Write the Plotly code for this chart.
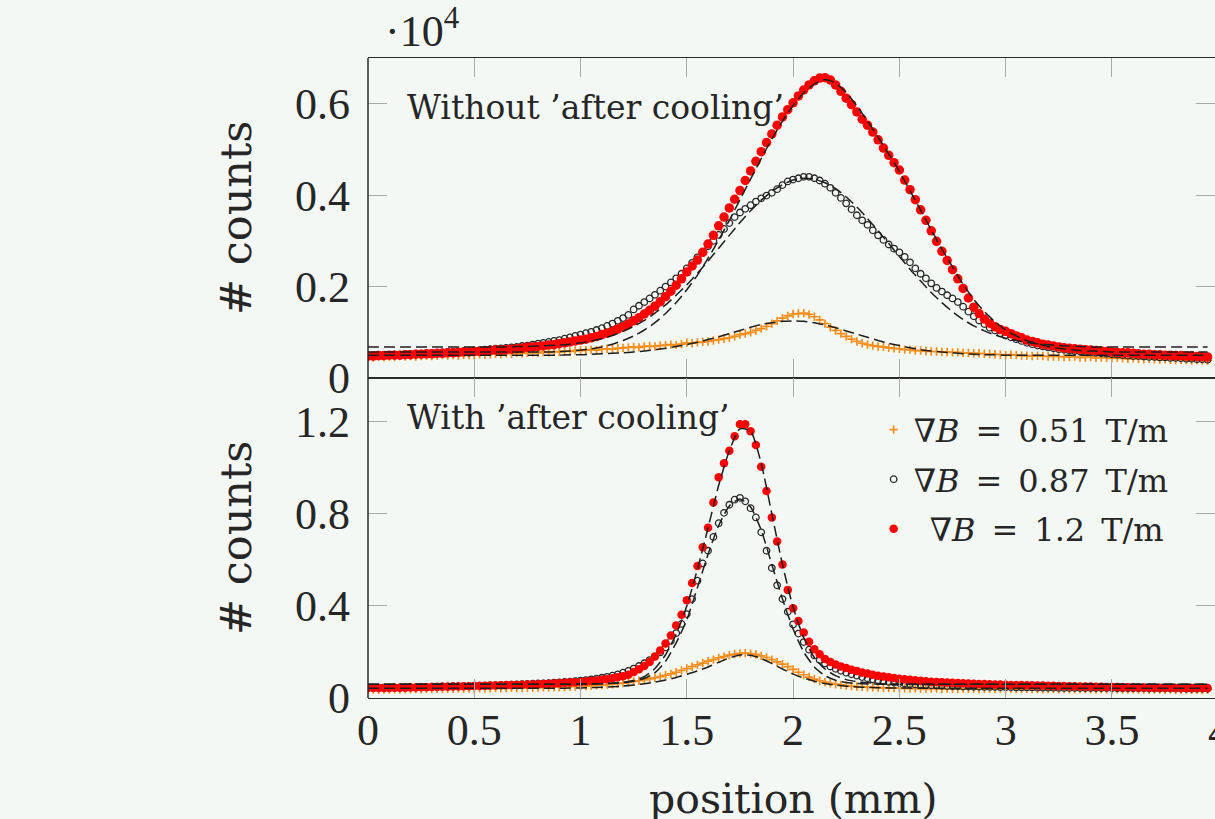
import plotly.graph_objects as go
from plotly.subplots import make_subplots

# ---------------- data (counts in units of 10^4) ----------------
x_data = [round(0.025 * i, 3) for i in range(159)]   # position (mm)
x_fit = [round(0.05 * i, 2) for i in range(80)]      # position (mm) for fit curves

# Top panel: without 'after cooling'
top_orange = [
    0.046,0.045,0.047,0.046,0.047,0.046,0.048,0.047,0.048,0.047,
    0.048,0.049,0.048,0.049,0.050,0.049,0.050,0.049,0.051,0.050,
    0.050,0.052,0.051,0.052,0.053,0.052,0.054,0.053,0.055,0.054,
    0.055,0.056,0.055,0.057,0.056,0.058,0.057,0.059,0.058,0.060,
    0.060,0.061,0.062,0.061,0.063,0.064,0.063,0.065,0.066,0.067,
    0.068,0.067,0.069,0.070,0.069,0.071,0.072,0.073,0.072,0.074,
    0.077,0.076,0.078,0.079,0.080,0.082,0.084,0.086,0.088,0.091,
    0.095,0.097,0.100,0.104,0.108,0.113,0.119,0.125,0.131,0.136,
    0.140,0.141,0.142,0.139,0.134,0.127,0.119,0.111,0.104,0.097,
    0.091,0.085,0.080,0.076,0.073,0.071,0.069,0.068,0.066,0.065,
    0.064,0.062,0.062,0.060,0.060,0.059,0.058,0.058,0.057,0.057,
    0.056,0.056,0.055,0.055,0.054,0.054,0.053,0.053,0.052,0.051,
    0.050,0.051,0.050,0.049,0.049,0.048,0.049,0.048,0.047,0.047,
    0.047,0.046,0.046,0.047,0.045,0.045,0.046,0.044,0.045,0.044,
    0.043,0.044,0.043,0.042,0.043,0.042,0.041,0.042,0.041,0.040,
    0.041,0.040,0.039,0.040,0.039,0.038,0.039,0.038,0.038]
top_black = [
    0.048,0.049,0.049,0.050,0.050,0.051,0.051,0.052,0.052,0.053,
    0.053,0.054,0.055,0.055,0.056,0.057,0.057,0.058,0.059,0.059,
    0.060,0.061,0.062,0.063,0.064,0.065,0.066,0.067,0.068,0.070,
    0.071,0.073,0.075,0.077,0.079,0.081,0.083,0.086,0.089,0.092,
    0.095,0.098,0.101,0.105,0.109,0.114,0.119,0.125,0.131,0.138,
    0.150,0.158,0.166,0.174,0.182,0.191,0.200,0.209,0.218,0.228,
    0.240,0.252,0.264,0.276,0.288,0.300,0.313,0.326,0.339,0.352,
    0.362,0.370,0.378,0.386,0.393,0.399,0.405,0.413,0.422,0.430,
    0.434,0.437,0.440,0.440,0.437,0.432,0.425,0.416,0.405,0.394,
    0.382,0.369,0.356,0.345,0.335,0.323,0.312,0.302,0.292,0.283,
    0.275,0.265,0.253,0.240,0.228,0.218,0.207,0.197,0.189,0.181,
    0.174,0.166,0.156,0.145,0.135,0.126,0.118,0.110,0.104,0.098,
    0.093,0.089,0.085,0.081,0.077,0.074,0.071,0.069,0.067,0.065,
    0.063,0.062,0.060,0.059,0.058,0.057,0.056,0.055,0.054,0.053,
    0.052,0.051,0.050,0.049,0.048,0.048,0.047,0.046,0.046,0.045,
    0.045,0.044,0.044,0.043,0.042,0.042,0.041,0.041,0.040]
top_red = [
    0.048,0.048,0.049,0.049,0.050,0.050,0.050,0.051,0.051,0.052,
    0.052,0.053,0.053,0.054,0.054,0.055,0.055,0.056,0.057,0.057,
    0.058,0.058,0.059,0.060,0.061,0.061,0.062,0.063,0.064,0.065,
    0.067,0.068,0.069,0.070,0.072,0.073,0.075,0.077,0.079,0.081,
    0.083,0.085,0.088,0.091,0.095,0.098,0.102,0.107,0.112,0.118,
    0.125,0.132,0.140,0.148,0.157,0.167,0.178,0.190,0.203,0.217,
    0.232,0.245,0.258,0.275,0.293,0.312,0.333,0.352,0.372,0.391,
    0.410,0.432,0.453,0.474,0.495,0.515,0.534,0.553,0.571,0.587,
    0.602,0.617,0.630,0.641,0.650,0.656,0.657,0.652,0.641,0.627,
    0.612,0.598,0.582,0.566,0.553,0.538,0.521,0.503,0.487,0.471,
    0.455,0.433,0.412,0.390,0.368,0.345,0.322,0.299,0.277,0.257,
    0.237,0.217,0.196,0.175,0.155,0.141,0.129,0.120,0.112,0.106,
    0.102,0.097,0.092,0.088,0.083,0.080,0.077,0.074,0.072,0.070,
    0.068,0.066,0.065,0.064,0.063,0.062,0.061,0.060,0.059,0.058,
    0.057,0.056,0.055,0.055,0.054,0.053,0.052,0.052,0.051,0.051,
    0.050,0.050,0.049,0.049,0.048,0.048,0.047,0.047,0.046]

top_orange_fit = [
    0.050,0.050,0.050,0.050,0.050,0.050,0.050,0.050,0.050,0.050,
    0.050,0.050,0.050,0.050,0.050,0.050,0.050,0.050,0.050,0.051,
    0.051,0.052,0.053,0.054,0.055,0.057,0.059,0.062,0.065,0.069,
    0.073,0.078,0.084,0.090,0.097,0.104,0.111,0.117,0.121,0.124,
    0.125,0.124,0.121,0.116,0.110,0.103,0.096,0.089,0.082,0.076,
    0.071,0.066,0.062,0.059,0.057,0.055,0.053,0.052,0.051,0.051,
    0.050,0.050,0.050,0.050,0.050,0.050,0.050,0.050,0.050,0.050,
    0.050,0.050,0.050,0.050,0.050,0.050,0.050,0.050,0.050,0.050]
top_black_fit = [
    0.068,0.068,0.068,0.068,0.068,0.068,0.068,0.068,0.068,0.068,
    0.068,0.068,0.068,0.068,0.069,0.069,0.070,0.071,0.072,0.074,
    0.077,0.081,0.086,0.093,0.102,0.113,0.126,0.142,0.160,0.181,
    0.204,0.229,0.256,0.284,0.312,0.340,0.366,0.389,0.408,0.423,
    0.433,0.437,0.435,0.427,0.414,0.396,0.374,0.349,0.322,0.294,
    0.266,0.238,0.212,0.187,0.165,0.145,0.128,0.114,0.103,0.094,
    0.087,0.082,0.078,0.075,0.073,0.071,0.070,0.069,0.068,0.068,
    0.068,0.068,0.068,0.068,0.068,0.068,0.068,0.068,0.068,0.068]
top_red_fit = [
    0.057,0.057,0.057,0.057,0.057,0.057,0.057,0.057,0.057,0.057,
    0.057,0.057,0.057,0.057,0.057,0.057,0.057,0.057,0.058,0.059,
    0.061,0.064,0.068,0.074,0.082,0.092,0.105,0.121,0.141,0.165,
    0.193,0.225,0.262,0.302,0.345,0.390,0.435,0.480,0.523,0.562,
    0.596,0.624,0.643,0.653,0.645,0.625,0.595,0.562,0.527,0.490,
    0.452,0.410,0.367,0.324,0.282,0.243,0.205,0.172,0.145,0.123,
    0.105,0.092,0.082,0.075,0.069,0.065,0.062,0.060,0.059,0.058,
    0.057,0.057,0.057,0.057,0.057,0.057,0.057,0.057,0.057,0.057]

# Bottom panel: with 'after cooling'
bot_orange = [
    0.036,0.037,0.036,0.037,0.037,0.038,0.037,0.038,0.038,0.039,
    0.038,0.039,0.039,0.040,0.039,0.040,0.040,0.041,0.040,0.041,
    0.041,0.042,0.041,0.042,0.043,0.042,0.043,0.044,0.043,0.044,
    0.045,0.044,0.045,0.046,0.046,0.047,0.047,0.048,0.049,0.050,
    0.051,0.052,0.053,0.055,0.056,0.058,0.060,0.062,0.065,0.068,
    0.072,0.075,0.079,0.083,0.088,0.093,0.099,0.105,0.112,0.120,
    0.128,0.136,0.144,0.152,0.160,0.167,0.174,0.180,0.186,0.191,
    0.194,0.195,0.193,0.189,0.183,0.176,0.167,0.157,0.147,0.136,
    0.124,0.112,0.101,0.091,0.082,0.075,0.069,0.064,0.060,0.057,
    0.054,0.052,0.050,0.049,0.047,0.046,0.045,0.044,0.044,0.043,
    0.043,0.042,0.042,0.042,0.041,0.041,0.041,0.041,0.040,0.041,
    0.040,0.040,0.041,0.040,0.040,0.039,0.040,0.040,0.039,0.040,
    0.039,0.040,0.039,0.039,0.040,0.039,0.039,0.038,0.039,0.039,
    0.038,0.039,0.038,0.038,0.039,0.038,0.038,0.037,0.038,0.038,
    0.037,0.038,0.037,0.037,0.038,0.037,0.037,0.036,0.037,0.037,
    0.036,0.037,0.036,0.036,0.037,0.036,0.036,0.035,0.036]
bot_black = [
    0.044,0.044,0.045,0.045,0.045,0.046,0.046,0.046,0.047,0.047,
    0.048,0.048,0.049,0.049,0.050,0.050,0.051,0.051,0.052,0.052,
    0.053,0.054,0.054,0.055,0.056,0.057,0.057,0.058,0.059,0.060,
    0.061,0.062,0.063,0.064,0.065,0.067,0.068,0.070,0.071,0.073,
    0.075,0.078,0.081,0.084,0.088,0.092,0.097,0.103,0.110,0.118,
    0.128,0.139,0.151,0.165,0.180,0.198,0.220,0.248,0.282,0.322,
    0.365,0.430,0.510,0.585,0.640,0.700,0.760,0.805,0.840,0.862,
    0.870,0.855,0.825,0.785,0.720,0.640,0.565,0.490,0.430,0.375,
    0.320,0.280,0.243,0.210,0.185,0.165,0.150,0.137,0.127,0.118,
    0.110,0.103,0.097,0.091,0.086,0.081,0.077,0.073,0.070,0.067,
    0.065,0.063,0.061,0.059,0.058,0.056,0.055,0.054,0.053,0.052,
    0.051,0.051,0.050,0.050,0.049,0.049,0.048,0.048,0.048,0.047,
    0.047,0.047,0.046,0.046,0.046,0.046,0.045,0.045,0.045,0.045,
    0.044,0.044,0.044,0.044,0.044,0.043,0.043,0.043,0.043,0.043,
    0.043,0.042,0.042,0.042,0.042,0.042,0.042,0.041,0.041,0.041,
    0.041,0.041,0.041,0.041,0.040,0.040,0.040,0.040,0.040]
bot_red = [
    0.043,0.043,0.044,0.044,0.044,0.045,0.045,0.045,0.046,0.046,
    0.047,0.047,0.048,0.048,0.049,0.049,0.050,0.050,0.051,0.051,
    0.052,0.052,0.053,0.054,0.054,0.055,0.056,0.056,0.057,0.058,
    0.059,0.059,0.060,0.061,0.062,0.063,0.064,0.066,0.067,0.068,
    0.070,0.072,0.074,0.076,0.079,0.082,0.086,0.090,0.095,0.101,
    0.113,0.125,0.139,0.157,0.180,0.207,0.237,0.272,0.315,0.362,
    0.425,0.500,0.574,0.655,0.740,0.850,0.960,1.020,1.075,1.138,
    1.190,1.190,1.160,1.100,1.005,0.900,0.785,0.680,0.580,0.470,
    0.390,0.335,0.285,0.245,0.212,0.190,0.170,0.157,0.146,0.137,
    0.130,0.123,0.117,0.111,0.106,0.101,0.097,0.093,0.090,0.087,
    0.084,0.081,0.079,0.077,0.075,0.073,0.071,0.070,0.068,0.067,
    0.066,0.065,0.064,0.063,0.062,0.061,0.061,0.060,0.059,0.059,
    0.058,0.057,0.057,0.056,0.055,0.055,0.054,0.054,0.053,0.053,
    0.052,0.052,0.051,0.051,0.050,0.050,0.050,0.049,0.049,0.048,
    0.048,0.048,0.047,0.047,0.047,0.046,0.046,0.046,0.045,0.045,
    0.045,0.045,0.044,0.044,0.044,0.044,0.043,0.043,0.043]

bot_orange_fit = [
    0.042,0.042,0.042,0.042,0.042,0.042,0.042,0.042,0.042,0.042,
    0.042,0.042,0.042,0.042,0.042,0.042,0.042,0.042,0.042,0.043,
    0.044,0.045,0.047,0.049,0.052,0.056,0.062,0.069,0.078,0.089,
    0.103,0.118,0.135,0.155,0.174,0.187,0.186,0.172,0.150,0.126,
    0.104,0.087,0.073,0.063,0.056,0.051,0.048,0.046,0.045,0.044,
    0.043,0.043,0.042,0.042,0.042,0.042,0.042,0.042,0.042,0.042,
    0.042,0.042,0.042,0.042,0.042,0.042,0.042,0.042,0.042,0.042,
    0.042,0.042,0.042,0.042,0.042,0.042,0.042,0.042,0.042,0.042]
bot_black_fit = [
    0.060,0.060,0.060,0.060,0.060,0.060,0.060,0.060,0.060,0.060,
    0.060,0.060,0.060,0.060,0.060,0.060,0.060,0.060,0.060,0.060,
    0.061,0.061,0.062,0.064,0.067,0.073,0.085,0.110,0.160,0.240,
    0.340,0.480,0.625,0.750,0.835,0.865,0.830,0.730,0.580,0.430,
    0.300,0.200,0.135,0.097,0.077,0.067,0.063,0.061,0.060,0.060,
    0.060,0.060,0.060,0.060,0.060,0.060,0.060,0.060,0.060,0.060,
    0.060,0.060,0.060,0.060,0.060,0.060,0.060,0.060,0.060,0.060,
    0.060,0.060,0.060,0.060,0.060,0.060,0.060,0.060,0.060,0.060]
bot_red_fit = [
    0.060,0.060,0.060,0.060,0.060,0.060,0.060,0.060,0.060,0.060,
    0.060,0.060,0.060,0.060,0.060,0.060,0.060,0.060,0.060,0.060,
    0.061,0.061,0.062,0.064,0.068,0.076,0.093,0.128,0.188,0.278,
    0.400,0.560,0.740,0.925,1.075,1.170,1.160,1.020,0.800,0.580,
    0.395,0.262,0.176,0.126,0.097,0.080,0.071,0.066,0.063,0.061,
    0.060,0.060,0.060,0.060,0.060,0.060,0.060,0.060,0.060,0.060,
    0.060,0.060,0.060,0.060,0.060,0.060,0.060,0.060,0.060,0.060,
    0.060,0.060,0.060,0.060,0.060,0.060,0.060,0.060,0.060,0.060]

for name, arr in [("top_orange", top_orange), ("top_black", top_black), ("top_red", top_red),
                  ("bot_orange", bot_orange), ("bot_black", bot_black), ("bot_red", bot_red)]:
    assert len(arr) == len(x_data), (name, len(arr))
for name, arr in [("top_orange_fit", top_orange_fit), ("top_black_fit", top_black_fit),
                  ("top_red_fit", top_red_fit), ("bot_orange_fit", bot_orange_fit),
                  ("bot_black_fit", bot_black_fit), ("bot_red_fit", bot_red_fit)]:
    assert len(arr) == len(x_fit), (name, len(arr))

SP = "\u2002"
series_labels = [f"∇<i>B</i>{SP}={SP}0.51{SP}T/m",
                 f"∇<i>B</i>{SP}={SP}0.87{SP}T/m",
                 f"{SP}∇<i>B</i>{SP}={SP}1.2{SP}T/m"]
x_tickvals = [0, 0.5, 1, 1.5, 2, 2.5, 3, 3.5]
x_ticktext = ["0", "0.5", "1", "1.5", "2", "2.5", "3", "3.5"]
top_yticks = [0, 0.2, 0.4, 0.6]
top_yticktext = ["0", "0.2", "0.4", "0.6"]
bot_yticks = [0, 0.4, 0.8, 1.2]
bot_yticktext = ["0", "0.4", "0.8", "1.2"]

# ---------------- styling ----------------
BG = "#f4f8f5"
ORANGE = "#f58d1a"
BLACK = "#262626"
RED = "#ff0000"
TEXT = "#262626"
NUMFONT = "Liberation Serif"
TXTFONT = "DejaVu Serif"
FIT_LINE = dict(color="#1e1e1e", width=1.5, dash="11px,5px", shape="spline", smoothing=0.6)

fig = make_subplots(rows=2, cols=1, shared_xaxes=True, vertical_spacing=0)

panels = [
    (1, top_orange, top_black, top_red, top_orange_fit, top_black_fit, top_red_fit, False),
    (2, bot_orange, bot_black, bot_red, bot_orange_fit, bot_black_fit, bot_red_fit, True),
]
for row, o, b, r, of, bf, rf, leg in panels:
    fig.add_trace(go.Scatter(x=x_data, y=o, mode="markers", name=series_labels[0],
                             legendgroup="g1", showlegend=leg,
                             marker=dict(symbol="cross-thin", size=6,
                                         line=dict(color=ORANGE, width=1.7), color=ORANGE)),
                  row=row, col=1)
    fig.add_trace(go.Scatter(x=x_data, y=b, mode="markers", name=series_labels[1],
                             legendgroup="g2", showlegend=leg,
                             marker=dict(symbol="circle-open", size=6.5, color=BLACK,
                                         line=dict(width=1.3))),
                  row=row, col=1)
    fig.add_trace(go.Scatter(x=x_data, y=r, mode="markers", name=series_labels[2],
                             legendgroup="g3", showlegend=leg,
                             marker=dict(symbol="circle", size=9.5 if row == 1 else 8.5,
                                         color=RED, line=dict(width=0))),
                  row=row, col=1)
    for fit in (of, bf, rf):
        fig.add_trace(go.Scatter(x=x_fit, y=fit, mode="lines", line=FIT_LINE,
                                 showlegend=False, hoverinfo="skip"),
                      row=row, col=1)

x_common = dict(range=[0, 3.985], tickvals=x_tickvals, ticktext=x_ticktext,
                ticks="inside", ticklen=19, tickwidth=1, tickcolor="#a9a9a9",
                showline=True, linecolor="#2a2a2a", linewidth=1.3, mirror="ticks",
                showgrid=False, zeroline=False,
                tickfont=dict(family=NUMFONT, size=44, color=TEXT))
fig.update_xaxes(**x_common)
fig.update_xaxes(showticklabels=False, row=1, col=1)
fig.update_xaxes(showticklabels=True, row=2, col=1)
try:
    fig.update_xaxes(ticklabelstandoff=-7, row=2, col=1)
except Exception:
    fig.update_xaxes(ticklabelstandoff=0, row=2, col=1)

y_common = dict(ticks="inside", ticklen=19, tickwidth=1, tickcolor="#a9a9a9",
                showline=False, mirror="ticks", showgrid=False, zeroline=False,
                ticklabelstandoff=17,
                tickfont=dict(family=NUMFONT, size=44, color=TEXT))
fig.update_yaxes(**y_common)
fig.update_yaxes(range=[0, 0.70], tickvals=top_yticks, ticktext=top_yticktext, row=1, col=1)
fig.update_yaxes(range=[0, 1.391], tickvals=bot_yticks, ticktext=bot_yticktext, row=2, col=1)

annos = [
    dict(text="·10<sup>4</sup>", x=0.0177, y=1.0, xref="paper", yref="paper",
         xanchor="left", yanchor="bottom", showarrow=False,
         font=dict(family=NUMFONT, size=44, color=TEXT)),
    dict(text="Without ’after cooling’", x=0.0437, y=0.922, xref="paper", yref="paper",
         xanchor="left", yanchor="middle", showarrow=False,
         font=dict(family=TXTFONT, size=33, color=TEXT)),
    dict(text="With ’after cooling’", x=0.0437, y=0.439, xref="paper", yref="paper",
         xanchor="left", yanchor="middle", showarrow=False,
         font=dict(family=TXTFONT, size=33, color=TEXT)),
    dict(text="# counts", x=-0.1558, y=0.75, xref="paper", yref="paper", textangle=-90,
         xanchor="center", yanchor="middle", showarrow=False,
         font=dict(family=TXTFONT, size=43, color=TEXT)),
    dict(text="# counts", x=-0.1558, y=0.25, xref="paper", yref="paper", textangle=-90,
         xanchor="center", yanchor="middle", showarrow=False,
         font=dict(family=TXTFONT, size=43, color=TEXT)),
    dict(text="position (mm)", x=0.5018, y=-0.158, xref="paper", yref="paper",
         xanchor="center", yanchor="middle", showarrow=False,
         font=dict(family=TXTFONT, size=41, color=TEXT)),
    dict(text="4", x=1.0047, y=-0.0516, xref="paper", yref="paper",
         xanchor="center", yanchor="middle", showarrow=False,
         font=dict(family=NUMFONT, size=44, color=TEXT)),
]

fig.update_layout(
    width=1215, height=819,
    margin=dict(l=368, r=0, t=58, b=121),
    paper_bgcolor=BG, plot_bgcolor=BG,
    annotations=annos,
    shapes=[dict(type="line", xref="paper", yref="paper", x0=0, x1=0, y0=0, y1=1,
                 line=dict(color="#2a2a2a", width=1.5), layer="above")],
    legend=dict(x=0.597, y=0.462, xanchor="left", yanchor="top",
                bgcolor="rgba(0,0,0,0)", borderwidth=0, tracegroupgap=5,
                font=dict(family=TXTFONT, size=32, color=TEXT)),
    showlegend=True,
)

fig.write_html("out.html", config={"displayModeBar": False},
               post_script="document.body.style.margin='0';document.body.style.overflow='hidden';")
